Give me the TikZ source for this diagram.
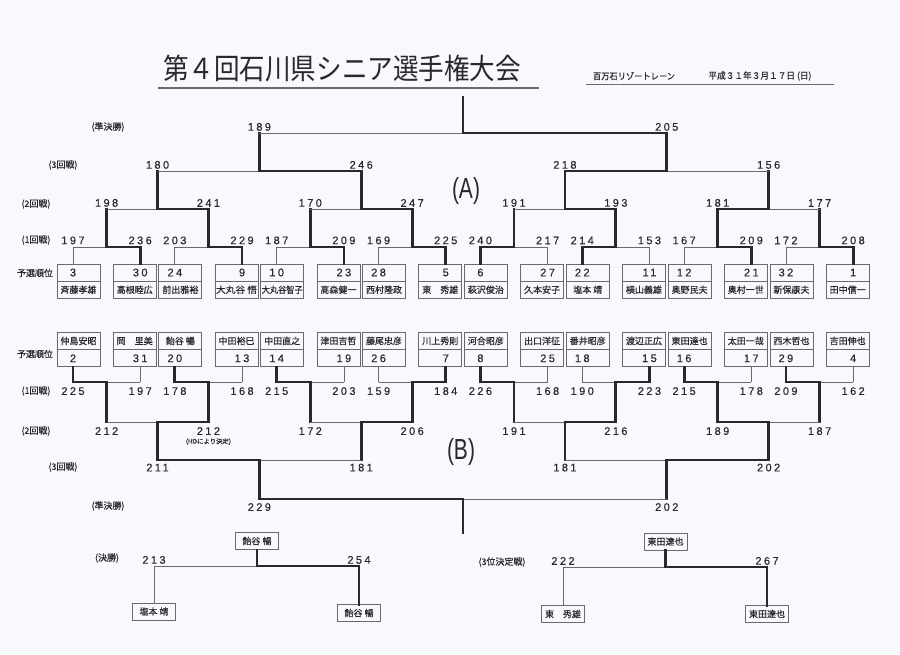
\documentclass[tikz,border=0pt]{standalone}
\usepackage{fontspec}
\usepackage{graphicx}
\usetikzlibrary{calc}
\newfontfamily\jp{Noto Sans CJK JP}
\newfontfamily\jpb[FakeBold=0.4]{Noto Sans CJK JP}
\newfontfamily\lat{Liberation Sans}
\newfontfamily\numf[LetterSpace=22,FakeBold=0.3]{Liberation Sans}
\definecolor{paper}{RGB}{248,249,252}
\definecolor{ink}{RGB}{40,40,45}
\definecolor{thinc}{RGB}{105,105,110}
\newcommand\brmatch[6]{%
  \coordinate (#5) at ($(#1#2)!0.5!(#1#3)$);
  \coordinate (#6) at (#5 |- 0,\nexty);
  \draw[thinln] (#1#2) -- (#1#3);
  \draw[winln] (#1#4) -- (#5) -- (#6);}
\newcommand\squeeze[1]{\resizebox{41pt}{\height}{#1}}
\begin{document}
\begin{tikzpicture}[x=1pt,y=-1pt,
  thinln/.style={line width=0.75pt, draw=thinc},
  winln/.style={line width=2.8pt, draw=ink, line cap=rect},
  boxln/.style={line width=0.8pt, draw=thinc},
  player/.style={boxln, minimum width=43pt, minimum height=34pt, inner sep=0pt},
  single/.style={boxln, minimum width=43pt, minimum height=17pt, inner sep=0pt, font=\jpb\fontsize{9}{10}\selectfont, text=ink},
  nmf/.style={inner sep=0pt, font=\jpb\fontsize{9}{10}\selectfont, text=ink},
  scf/.style={inner sep=0pt, font=\numf\fontsize{11}{12}\selectfont, text=ink},
  lbl/.style={inner sep=0pt, font=\jpb\fontsize{9}{10}\selectfont, text=ink},
]
\fill[paper] (0,0) rectangle (900,654);
\useasboundingbox (0,0) rectangle (900,654);

% ---------- header ----------
\node[inner sep=0pt, text=ink] (title) at (342,69)
  {\resizebox{358pt}{\height}{\jp\fontsize{29}{30}\selectfont 第４回石川県シニア選手権大会}};
\draw[line width=1.6pt, draw=thinc] (158,88) -- (539,88);
\node[inner sep=0pt, text=ink] (venue) at (634,76)
  {\resizebox{82pt}{\height}{\jpb\fontsize{9}{10}\selectfont 百万石リゾートレーン}};
\node[inner sep=0pt, text=ink] (date) at (760,76)
  {\resizebox{103pt}{\height}{\jpb\fontsize{9}{10}\selectfont 平成３１年３月１７日 (日)}};
\draw[line width=0.9pt, draw=thinc] (586,84) -- (834,84);

% ---------- round labels ----------
\node[lbl] (la5) at (108,127) {(準決勝)};
\node[lbl] (la4) at (63,165) {(3回戦)};
\node[lbl] (la3) at (36,204) {(2回戦)};
\node[lbl] (la2) at (36,240) {(1回戦)};
\node[lbl] (la1) at (35,273) {予選順位};
\node[lbl] (lb1) at (35,354) {予選順位};
\node[lbl] (lb2) at (36,391) {(1回戦)};
\node[lbl] (lb3) at (36,431) {(2回戦)};
\node[lbl] (lb4) at (63,467) {(3回戦)};
\node[lbl] (lb5) at (108,506) {(準決勝)};
\node[lbl] (lf) at (107,558) {(決勝)};
\node[lbl] (lt) at (502,562) {(3位決定戦)};

\node[inner sep=0pt, text=ink] (grpA) at (466,191)
  {\resizebox{28pt}{\height}{\lat\fontsize{29}{30}\selectfont (A)}};
\node[inner sep=0pt, text=ink] (grpB) at (461,452)
  {\resizebox{28pt}{\height}{\lat\fontsize{29}{30}\selectfont (B)}};

% ================= GROUP A =================
\foreach \i/\sd/\nm/\scr in {1/3/斉藤孝雄/197,2/30/高根睦広/236,3/24/前出雅裕/203,4/9/{\squeeze{大丸谷 悟}}/229,
  5/10/{\squeeze{大丸谷智子}}/187,6/23/高森健一/209,7/28/西村隆政/169,8/5/東　秀雄/225,
  9/6/萩沢俊治/240,10/27/久本安子/217,11/22/塩本 靖/214,12/11/横山義雄/153,
  13/12/奥野民夫/167,14/21/奥村一世/209,15/32/新保康夫/172,16/1/田中信一/208}{
  \pgfmathtruncatemacro\pp{floor((\i-1)/2)}
  \pgfmathsetmacro\lft{isodd(\i) ? 57+101.85*\pp : 113.2+101.85*\pp}
  \pgfmathsetmacro\cn{isodd(\i) ? \lft+16 : \lft+27}
  \node[player] (A\i) at (\lft+21.5,281) {};
  \draw[boxln] (A\i.west) -- (A\i.east);
  \node[scf] (As\i) at (\cn,272.5) {\sd};
  \node[nmf] (An\i) at (\lft+21.5,289.7) {\nm};
  \coordinate (At\i) at (\cn,264);
  \coordinate (A1p\i) at (\cn,247);
  \draw[thinln] (At\i) -- (A1p\i);
  \node[scf, anchor=south] (A1s\i) at ([yshift=2.5pt]A1p\i) {\scr};
}
\def\nexty{209}
\foreach \p/\w in {1/2,2/2,3/2,4/2,5/1,6/1,7/2,8/2}{
  \pgfmathtruncatemacro\lc{2*\p-1}
  \pgfmathtruncatemacro\rc{2*\p}
  \pgfmathtruncatemacro\wi{2*\p-2+\w}
  \draw[winln] (At\wi) -- (A1p\wi);
  \brmatch{A1p}{\lc}{\rc}{\wi}{A1m\p}{A2p\p}
}
\foreach \p/\s in {1/198,2/241,3/170,4/247,5/191,6/193,7/181,8/177}
  \node[scf, anchor=south] (A2s\p) at ([yshift=2pt]A2p\p) {\s};
\def\nexty{171}
\foreach \p/\w in {1/2,2/2,3/2,4/1}{
  \pgfmathtruncatemacro\lc{2*\p-1}
  \pgfmathtruncatemacro\rc{2*\p}
  \pgfmathtruncatemacro\wi{2*\p-2+\w}
  \brmatch{A2p}{\lc}{\rc}{\wi}{A2m\p}{A3p\p}
}
\foreach \p/\s in {1/180,2/246,3/218,4/156}
  \node[scf, anchor=south] (A3s\p) at ([yshift=2pt]A3p\p) {\s};
\def\nexty{133}
\foreach \p/\w in {1/2,2/1}{
  \pgfmathtruncatemacro\lc{2*\p-1}
  \pgfmathtruncatemacro\rc{2*\p}
  \pgfmathtruncatemacro\wi{2*\p-2+\w}
  \brmatch{A3p}{\lc}{\rc}{\wi}{A3m\p}{A4p\p}
}
\foreach \p/\s in {1/189,2/205}
  \node[scf, anchor=south] (A4s\p) at ([yshift=2pt]A4p\p) {\s};
\def\nexty{97}
\brmatch{A4p}{1}{2}{2}{A4m}{A5p}

% ================= GROUP B =================
\foreach \i/\sd/\nm/\scr in {1/2/仲島安昭/225,2/31/岡　里美/197,3/20/飴谷 暢/178,4/13/中田裕巳/168,
  5/14/中田直之/215,6/19/津田吉哲/203,7/26/藤尾忠彦/159,8/7/川上秀則/184,
  9/8/河合昭彦/226,10/25/出口洋征/168,11/18/番井昭彦/190,12/15/渡辺正広/223,
  13/16/東田達也/215,14/17/太田一哉/178,15/29/西木哲也/209,16/4/吉田伸也/162}{
  \pgfmathtruncatemacro\pp{floor((\i-1)/2)}
  \pgfmathsetmacro\lft{isodd(\i) ? 57+101.85*\pp : 113.2+101.85*\pp}
  \pgfmathsetmacro\cn{isodd(\i) ? \lft+16 : \lft+27}
  \node[player] (B\i) at (\lft+21.5,349.5) {};
  \draw[boxln] (B\i.west) -- (B\i.east);
  \node[nmf] (Bn\i) at (\lft+21.5,340.9) {\nm};
  \node[scf] (Bs\i) at (\cn,358.3) {\sd};
  \coordinate (Bt\i) at (\cn,367);
  \coordinate (B1p\i) at (\cn,382);
  \draw[thinln] (Bt\i) -- (B1p\i);
  \node[scf, anchor=north] (B1s\i) at ([yshift=-5pt]B1p\i) {\scr};
}
\def\nexty{422}
\foreach \p/\w in {1/1,2/1,3/1,4/2,5/1,6/2,7/1,8/1}{
  \pgfmathtruncatemacro\lc{2*\p-1}
  \pgfmathtruncatemacro\rc{2*\p}
  \pgfmathtruncatemacro\wi{2*\p-2+\w}
  \draw[winln] (Bt\wi) -- (B1p\wi);
  \brmatch{B1p}{\lc}{\rc}{\wi}{B1m\p}{B2p\p}
}
\foreach \p/\s in {1/212,2/212,3/172,4/206,5/191,6/216,7/189,8/187}
  \node[scf, anchor=north] (B2s\p) at ([yshift=-5pt]B2p\p) {\s};
\node[inner sep=0pt, text=ink, font=\jpb\fontsize{6.4}{7}\selectfont] (hd) at ([yshift=-3pt]B2s2.south) [anchor=north] {(HDにより決定)};
\def\nexty{460}
\foreach \p/\w in {1/2,2/2,3/2,4/1}{
  \pgfmathtruncatemacro\lc{2*\p-1}
  \pgfmathtruncatemacro\rc{2*\p}
  \pgfmathtruncatemacro\wi{2*\p-2+\w}
  \brmatch{B2p}{\lc}{\rc}{\wi}{B2m\p}{B3p\p}
}
\foreach \p/\s in {1/211,2/181,3/181,4/202}
  \node[scf, anchor=north] (B3s\p) at ([yshift=-3.5pt]B3p\p) {\s};
\def\nexty{499}
\foreach \p/\w in {1/1,2/2}{
  \pgfmathtruncatemacro\lc{2*\p-1}
  \pgfmathtruncatemacro\rc{2*\p}
  \pgfmathtruncatemacro\wi{2*\p-2+\w}
  \brmatch{B3p}{\lc}{\rc}{\wi}{B3m\p}{B4p\p}
}
\foreach \p/\s in {1/229,2/202}
  \node[scf, anchor=north] (B4s\p) at ([yshift=-4pt]B4p\p) {\s};
\def\nexty{533}
\brmatch{B4p}{1}{2}{1}{B4m}{B5p}

% ================= FINAL =================
\node[single] (F0) at (257,541) {飴谷 暢};
\node[single] (F1) at (154,611.5) {塩本 靖};
\node[single] (F2) at (359,613) {飴谷 暢};
\coordinate (Fm) at (F0.south |- 0,566);
\coordinate (Fl) at (F1.north |- 0,566);
\coordinate (Fr) at (F2.north |- 0,566);
\draw[thinln] (Fm) -- (Fl) -- (F1.north);
\draw[winln] (F0.south) -- (Fm) -- (Fr) -- (F2.north);
\node[scf, anchor=south] (Fsl) at ([yshift=2pt]Fl) {213};
\node[scf, anchor=south] (Fsr) at ([yshift=2pt]Fr) {254};

% ================= 3rd place =================
\node[single] (T0) at (665.5,541.5) {東田達也};
\node[single] (T1) at (563,614) {東　秀雄};
\node[single] (T2) at (767,614) {東田達也};
\coordinate (Tm) at (T0.south |- 0,567);
\coordinate (Tl) at (T1.north |- 0,567);
\coordinate (Tr) at (T2.north |- 0,567);
\draw[thinln] (Tm) -- (Tl) -- (T1.north);
\draw[winln] (T0.south) -- (Tm) -- (Tr) -- (T2.north);
\node[scf, anchor=south] (Tsl) at ([yshift=2pt]Tl) {222};
\node[scf, anchor=south] (Tsr) at ([yshift=2pt]Tr) {267};
\end{tikzpicture}
\end{document}
